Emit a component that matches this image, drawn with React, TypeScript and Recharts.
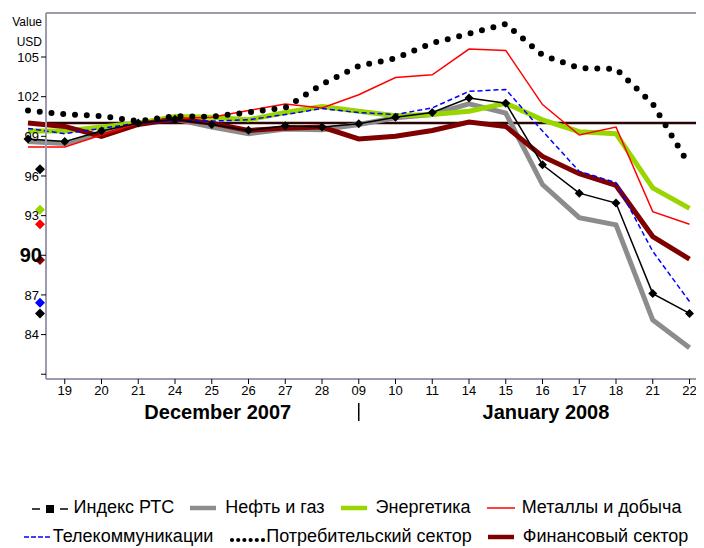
import React from "react";
import { LineChart, Line, XAxis, YAxis, ReferenceLine, ReferenceDot } from "recharts";

// trading days, 18 Dec 2007 .. 22 Jan 2008 (first day sits left of the axis, no label)
const dates = [
  "2007-12-18", "2007-12-19", "2007-12-20", "2007-12-21", "2007-12-24", "2007-12-25",
  "2007-12-26", "2007-12-27", "2007-12-28", "2008-01-09", "2008-01-10", "2008-01-11",
  "2008-01-14", "2008-01-15", "2008-01-16", "2008-01-17", "2008-01-18", "2008-01-21",
  "2008-01-22",
];

const rts = [98.8, 98.6, 99.4, 100.0, 100.3, 99.9, 99.45, 99.8, 99.7, 99.95, 100.45, 100.8, 101.9, 101.5, 96.85, 94.7, 93.95, 87.1, 85.6];
const oilGas = [98.6, 98.45, 99.3, 100.0, 100.3, 99.7, 99.2, 99.55, 99.5, 99.9, 100.4, 100.65, 101.45, 100.75, 95.35, 92.85, 92.3, 85.1, 83.0];
const energy = [99.4, 99.4, 99.7, 100.0, 100.5, 100.45, 100.25, 100.8, 101.25, 100.9, 100.55, 100.65, 100.9, 101.5, 100.25, 99.35, 99.2, 95.1, 93.55];
const metals = [98.2, 98.2, 99.1, 100.0, 100.35, 100.45, 100.95, 101.45, 101.15, 102.15, 103.45, 103.65, 105.6, 105.5, 101.4, 99.1, 99.7, 93.3, 92.35];
const telecom = [99.6, 99.2, 99.6, 100.0, 100.2, 100.15, 100.25, 100.65, 101.1, 100.8, 100.65, 101.15, 102.4, 102.55, 99.4, 96.35, 95.5, 90.3, 86.5];
const consumer = [100.95, 100.67, 100.53, 100.15, 100.52, 100.48, 100.82, 101.16, 102.93, 104.32, 104.9, 106.05, 106.76, 107.5, 105.14, 104.17, 104.1, 101.46, 96.8];
const finance = [100.0, 99.75, 99.0, 99.9, 100.3, 100.0, 99.45, 99.62, 99.7, 98.8, 99.0, 99.44, 100.08, 99.75, 97.48, 96.17, 95.28, 91.42, 89.71];

const seriesNames = [
  "Индекс РТС", "Нефть и газ", "Энергетика", "Металлы и добыча",
  "Телекоммуникации", "Потребительский сектор", "Финансовый сектор",
];

const yTicks = [81, 84, 87, 90, 93, 96, 99, 102, 105];
const yTickLabels = ["", "84", "87", "90", "93", "96", "99", "102", "105"];
const yDomain = [80.64, 108.33];
const baseline = 100;

const monthLabels = ["December 2007", "January 2008"];

// end-of-period markers drawn on the value axis
const markerValues = [96.5, 93.45, 92.35, 89.65, 86.4, 85.6];
const markerColors = ["#000000", "#99d600", "#ff0000", "#800000", "#0000ff", "#000000"];

const FONT = "'Liberation Sans', Arial, sans-serif";
const AXIS = "#9c9cae";

const data = dates.map((date, i) => ({
  date,
  rts: rts[i],
  oilGas: oilGas[i],
  energy: energy[i],
  metals: metals[i],
  telecom: telecom[i],
  consumer: consumer[i],
  finance: finance[i],
}));

const series = [
  { key: "rts", name: seriesNames[0], color: "#000000", icon: "marker" },
  { key: "oilGas", name: seriesNames[1], color: "#8c8c8c", icon: "thick" },
  { key: "energy", name: seriesNames[2], color: "#99d600", icon: "thick" },
  { key: "metals", name: seriesNames[3], color: "#ff0000", icon: "thin" },
  { key: "telecom", name: seriesNames[4], color: "#0000ff", icon: "dash" },
  { key: "consumer", name: seriesNames[5], color: "#000000", icon: "dot" },
  { key: "finance", name: seriesNames[6], color: "#800000", icon: "thick" },
];

function Diamond({ cx, cy, r, fill }: { cx: number; cy: number; r: number; fill: string }) {
  return (
    <polygon
      points={`${cx},${cy - r} ${cx + r},${cy} ${cx},${cy + r} ${cx - r},${cy}`}
      fill={fill}
    />
  );
}

function YTick(props: any) {
  const { x, y, payload } = props;
  const idx = yTicks.indexOf(payload.value);
  const big = payload.value === 90;
  return (
    <text
      x={big ? x + 3 : x}
      y={y}
      dy={big ? 7 : 4.6}
      textAnchor="end"
      fontSize={big ? 20 : 13}
      fontWeight={big ? 700 : 400}
      fontFamily={FONT}
      fill="#000"
    >
      {yTickLabels[idx]}
    </text>
  );
}

const monthTicks = [dates[5], dates[9], dates[14]];

function MonthTick(props: any) {
  const { x, y, payload } = props;
  if (payload.value === dates[9]) {
    return <line x1={x} x2={x} y1={y} y2={y + 18} stroke="#000" strokeWidth={1.5} />;
  }
  const first = payload.value === dates[5];
  return (
    <text
      x={x + (first ? 6 : 3.5)}
      y={y + 16}
      textAnchor="middle"
      fontSize={20}
      fontWeight={700}
      fontFamily={FONT}
      fill="#000"
    >
      {first ? monthLabels[0] : monthLabels[1]}
    </text>
  );
}

function LegendIcon({ icon, color }: { icon: string; color: string }) {
  if (icon === "marker") {
    return (
      <svg width={38} height={12} style={{ marginRight: 5 }}>
        <line x1={1} x2={9} y1={7} y2={7} stroke={color} strokeWidth={1.5} />
        <rect x={15} y={3} width={8} height={8} fill={color} />
        <line x1={29} x2={37} y1={7} y2={7} stroke={color} strokeWidth={1.5} />
      </svg>
    );
  }
  if (icon === "thick") {
    return (
      <svg width={26} height={8} style={{ marginRight: 9 }}>
        <line x1={0} x2={26} y1={4} y2={4} stroke={color} strokeWidth={4.5} />
      </svg>
    );
  }
  if (icon === "thin") {
    return (
      <svg width={28} height={8} style={{ marginRight: 7 }}>
        <line x1={0} x2={28} y1={4} y2={4} stroke={color} strokeWidth={1.5} />
      </svg>
    );
  }
  if (icon === "dash") {
    return (
      <svg width={28} height={8} style={{ marginRight: 1 }}>
        <line x1={0} x2={28} y1={4} y2={4} stroke={color} strokeWidth={1.5} strokeDasharray="5 2" />
      </svg>
    );
  }
  return (
    <svg width={37} height={12} style={{ marginRight: 0 }}>
      {[0, 1, 2, 3, 4, 5].map((k) => (
        <circle key={k} cx={3 + k * 6.2} cy={9} r={2.1} fill={color} />
      ))}
    </svg>
  );
}

function LegendRow({ items }: { items: typeof series }) {
  return (
    <div style={{ display: "flex", justifyContent: "center", alignItems: "center", height: 29 }}>
      {items.map((s) => (
        <div key={s.key} style={{ display: "flex", alignItems: "center", margin: "0 8px" }}>
          <LegendIcon icon={s.icon} color={s.color} />
          <span>{s.name}</span>
        </div>
      ))}
    </div>
  );
}

export default function App() {
  const xPadding = { left: -18, right: 14.5 };
  return (
    <div style={{ position: "relative", width: 696, height: 540, fontFamily: FONT, background: "#fff" }}>
      <LineChart width={696} height={431} data={data} margin={{ top: 5, right: 0, bottom: 0, left: 0 }}>
        <XAxis
          dataKey="date"
          scale="point"
          padding={xPadding}
          ticks={dates.slice(1)}
          interval={0}
          tickFormatter={(d: string) => d.slice(8)}
          axisLine={{ stroke: AXIS, strokeWidth: 2 }}
          tickLine={{ stroke: "#000" }}
          tickSize={5}
          tickMargin={2}
          tick={{ fontSize: 13, fill: "#000", fontFamily: FONT }}
          height={24}
        />
        <XAxis
          xAxisId="month"
          dataKey="date"
          scale="point"
          padding={xPadding}
          ticks={monthTicks}
          interval={0}
          axisLine={false}
          tickLine={false}
          tickSize={0}
          tickMargin={0}
          tick={MonthTick}
          height={36}
        />
        <YAxis
          domain={yDomain}
          ticks={yTicks}
          interval={0}
          width={38}
          axisLine={{ stroke: AXIS, strokeWidth: 2 }}
          tickLine={{ stroke: "#000" }}
          tickSize={5}
          tickMargin={2}
          tick={YTick}
        />
        <ReferenceLine y={yDomain[1]} stroke={AXIS} strokeWidth={2} />
        <ReferenceLine y={baseline} stroke="#2a0505" strokeWidth={2.5} />
        <Line dataKey="oilGas" stroke="#8c8c8c" strokeWidth={5} dot={false} isAnimationActive={false} />
        <Line dataKey="energy" stroke="#99d600" strokeWidth={5} dot={false} isAnimationActive={false} />
        <Line dataKey="finance" stroke="#800000" strokeWidth={5} dot={false} isAnimationActive={false} />
        <Line dataKey="metals" stroke="#ff0000" strokeWidth={1.5} dot={false} isAnimationActive={false} />
        <Line
          dataKey="telecom"
          stroke="#0000ff"
          strokeWidth={1.5}
          strokeDasharray="5 3"
          dot={false}
          isAnimationActive={false}
        />
        <Line
          dataKey="rts"
          stroke="#000000"
          strokeWidth={1.5}
          dot={(p: any) => <Diamond key={`d-${p.index}`} cx={p.cx} cy={p.cy} r={4.5} fill="#000" />}
          isAnimationActive={false}
        />
        <Line
          dataKey="consumer"
          stroke="#000000"
          strokeWidth={6}
          strokeDasharray="0 11.8"
          strokeLinecap="round"
          dot={false}
          isAnimationActive={false}
        />
        {markerValues.map((v, k) => (
          <ReferenceDot
            key={`m-${k}`}
            x={dates[0]}
            y={v}
            ifOverflow="visible"
            shape={(p: any) => <Diamond cx={p.cx + 12} cy={p.cy} r={5} fill={markerColors[k]} />}
          />
        ))}
      </LineChart>
      <div
        style={{
          position: "absolute",
          left: 0,
          top: 4,
          width: 34,
          textAlign: "right",
          fontSize: 12,
          lineHeight: "20px",
        }}
      >
        <div>Value</div>
        <div>USD</div>
      </div>
      <div style={{ position: "absolute", left: 0, top: 485, width: 696, fontSize: 18 }}>
        <LegendRow items={series.slice(0, 4)} />
        <LegendRow items={series.slice(4)} />
      </div>
    </div>
  );
}
